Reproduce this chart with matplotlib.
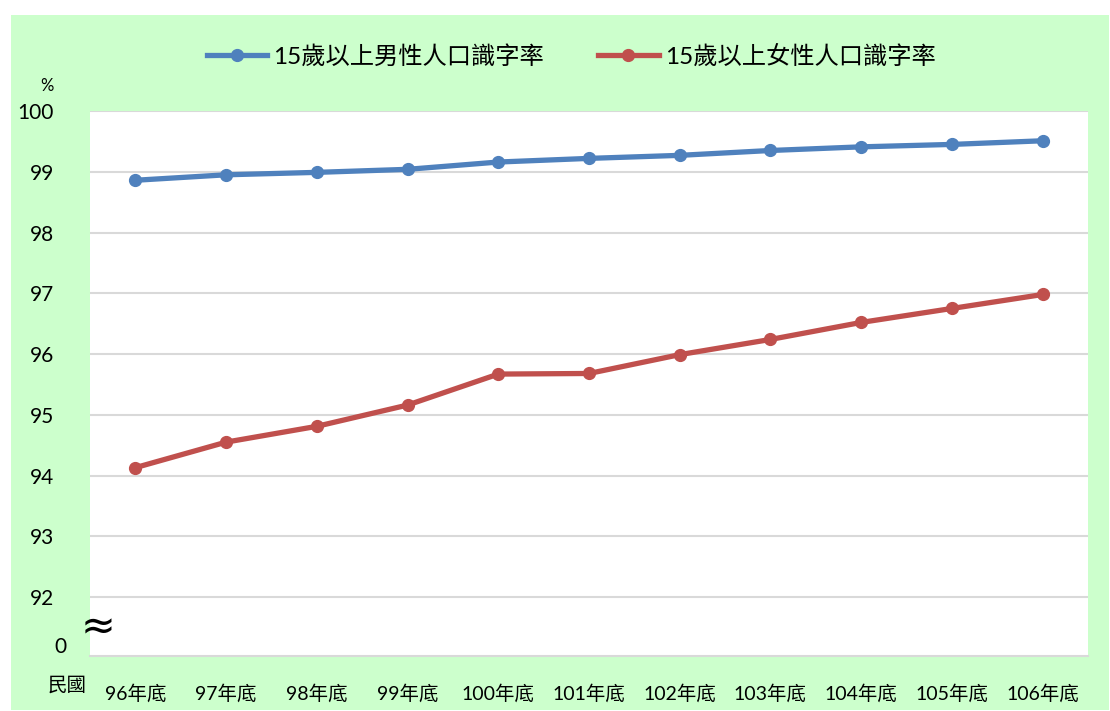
import matplotlib
matplotlib.use("Agg")
import matplotlib.pyplot as plt
from matplotlib.patches import Rectangle
from matplotlib.lines import Line2D

plt.rcParams['font.family'] = ['Lato', 'Noto Sans CJK TC', 'DejaVu Sans']

categories = ["96年底", "97年底", "98年底", "99年底", "100年底", "101年底",
              "102年底", "103年底", "104年底", "105年底", "106年底"]
male = [98.86, 98.95, 98.99, 99.04, 99.16, 99.22, 99.27, 99.35, 99.41, 99.45, 99.51]
female = [94.13, 94.55, 94.81, 95.16, 95.67, 95.68, 95.99, 96.24, 96.52, 96.75, 96.98]
yticks = [92, 93, 94, 95, 96, 97, 98, 99, 100]
series_names = ["15歲以上男性人口識字率", "15歲以上女性人口識字率"]

W, H = 1110, 711
fig = plt.figure(figsize=(W / 100, H / 100), dpi=100)
fig.patch.set_facecolor("white")

# green chart background
fig.add_artist(Rectangle((11 / W, 1 - 710 / H), (1109 - 11) / W, (710 - 15) / H,
                         transform=fig.transFigure, facecolor="#CCFFCC",
                         edgecolor="none", zorder=0))

ax = fig.add_axes([90 / W, 1 - 656 / H, (1088 - 90) / W, (656 - 111) / H])
ax.set_facecolor("white")
ax.set_zorder(1)

x = list(range(len(categories)))
blue = "#4F81BD"
red = "#C0504D"
ax.plot(x, male, color=blue, lw=3.8, marker="o", ms=8.5, zorder=3, solid_capstyle="round")
ax.plot(x, female, color=red, lw=3.8, marker="o", ms=8.5, zorder=3, solid_capstyle="round")

ax.set_xlim(-0.5, len(categories) - 0.5)
ax.set_ylim(91.03, 100)
ax.set_yticks(yticks)
ax.set_yticklabels([str(v) for v in yticks], fontsize=15)
ax.set_xticks(x)
ax.set_xticklabels(categories, fontsize=14)
ax.tick_params(axis="both", length=0)
ax.tick_params(axis="y", pad=26)
ax.tick_params(axis="x", pad=20)
ax.grid(axis="y", color="#D9D9D9", lw=1.5, zorder=0)
for s in ["left", "right", "top"]:
    ax.spines[s].set_visible(False)
ax.spines["bottom"].set_color("#D9D9D9")
ax.spines["bottom"].set_linewidth(1.5)

# extra annotations
fig.text(47 / W, 1 - 86 / H, "%", fontsize=12, ha="center", va="center")
fig.text(60 / W, 1 - 647 / H, "0", fontsize=15, ha="center", va="center")
fig.text(98 / W, 1 - 627 / H, "≈", fontsize=30, ha="center", va="center",
         family=["DejaVu Sans"], zorder=5)
fig.text(67 / W, 1 - 685 / H, "民國", fontsize=14, ha="center", va="center")

handles = [Line2D([], [], color=blue, lw=3.8, marker="o", ms=8.5),
           Line2D([], [], color=red, lw=3.8, marker="o", ms=8.5)]
fig.legend(handles, series_names, loc="center", bbox_to_anchor=(571 / W, 1 - 56 / H),
           ncol=2, frameon=False, fontsize=17.5, handlelength=2.5, handletextpad=0.25,
           columnspacing=2.2)

fig.savefig("out.png", dpi=100)
